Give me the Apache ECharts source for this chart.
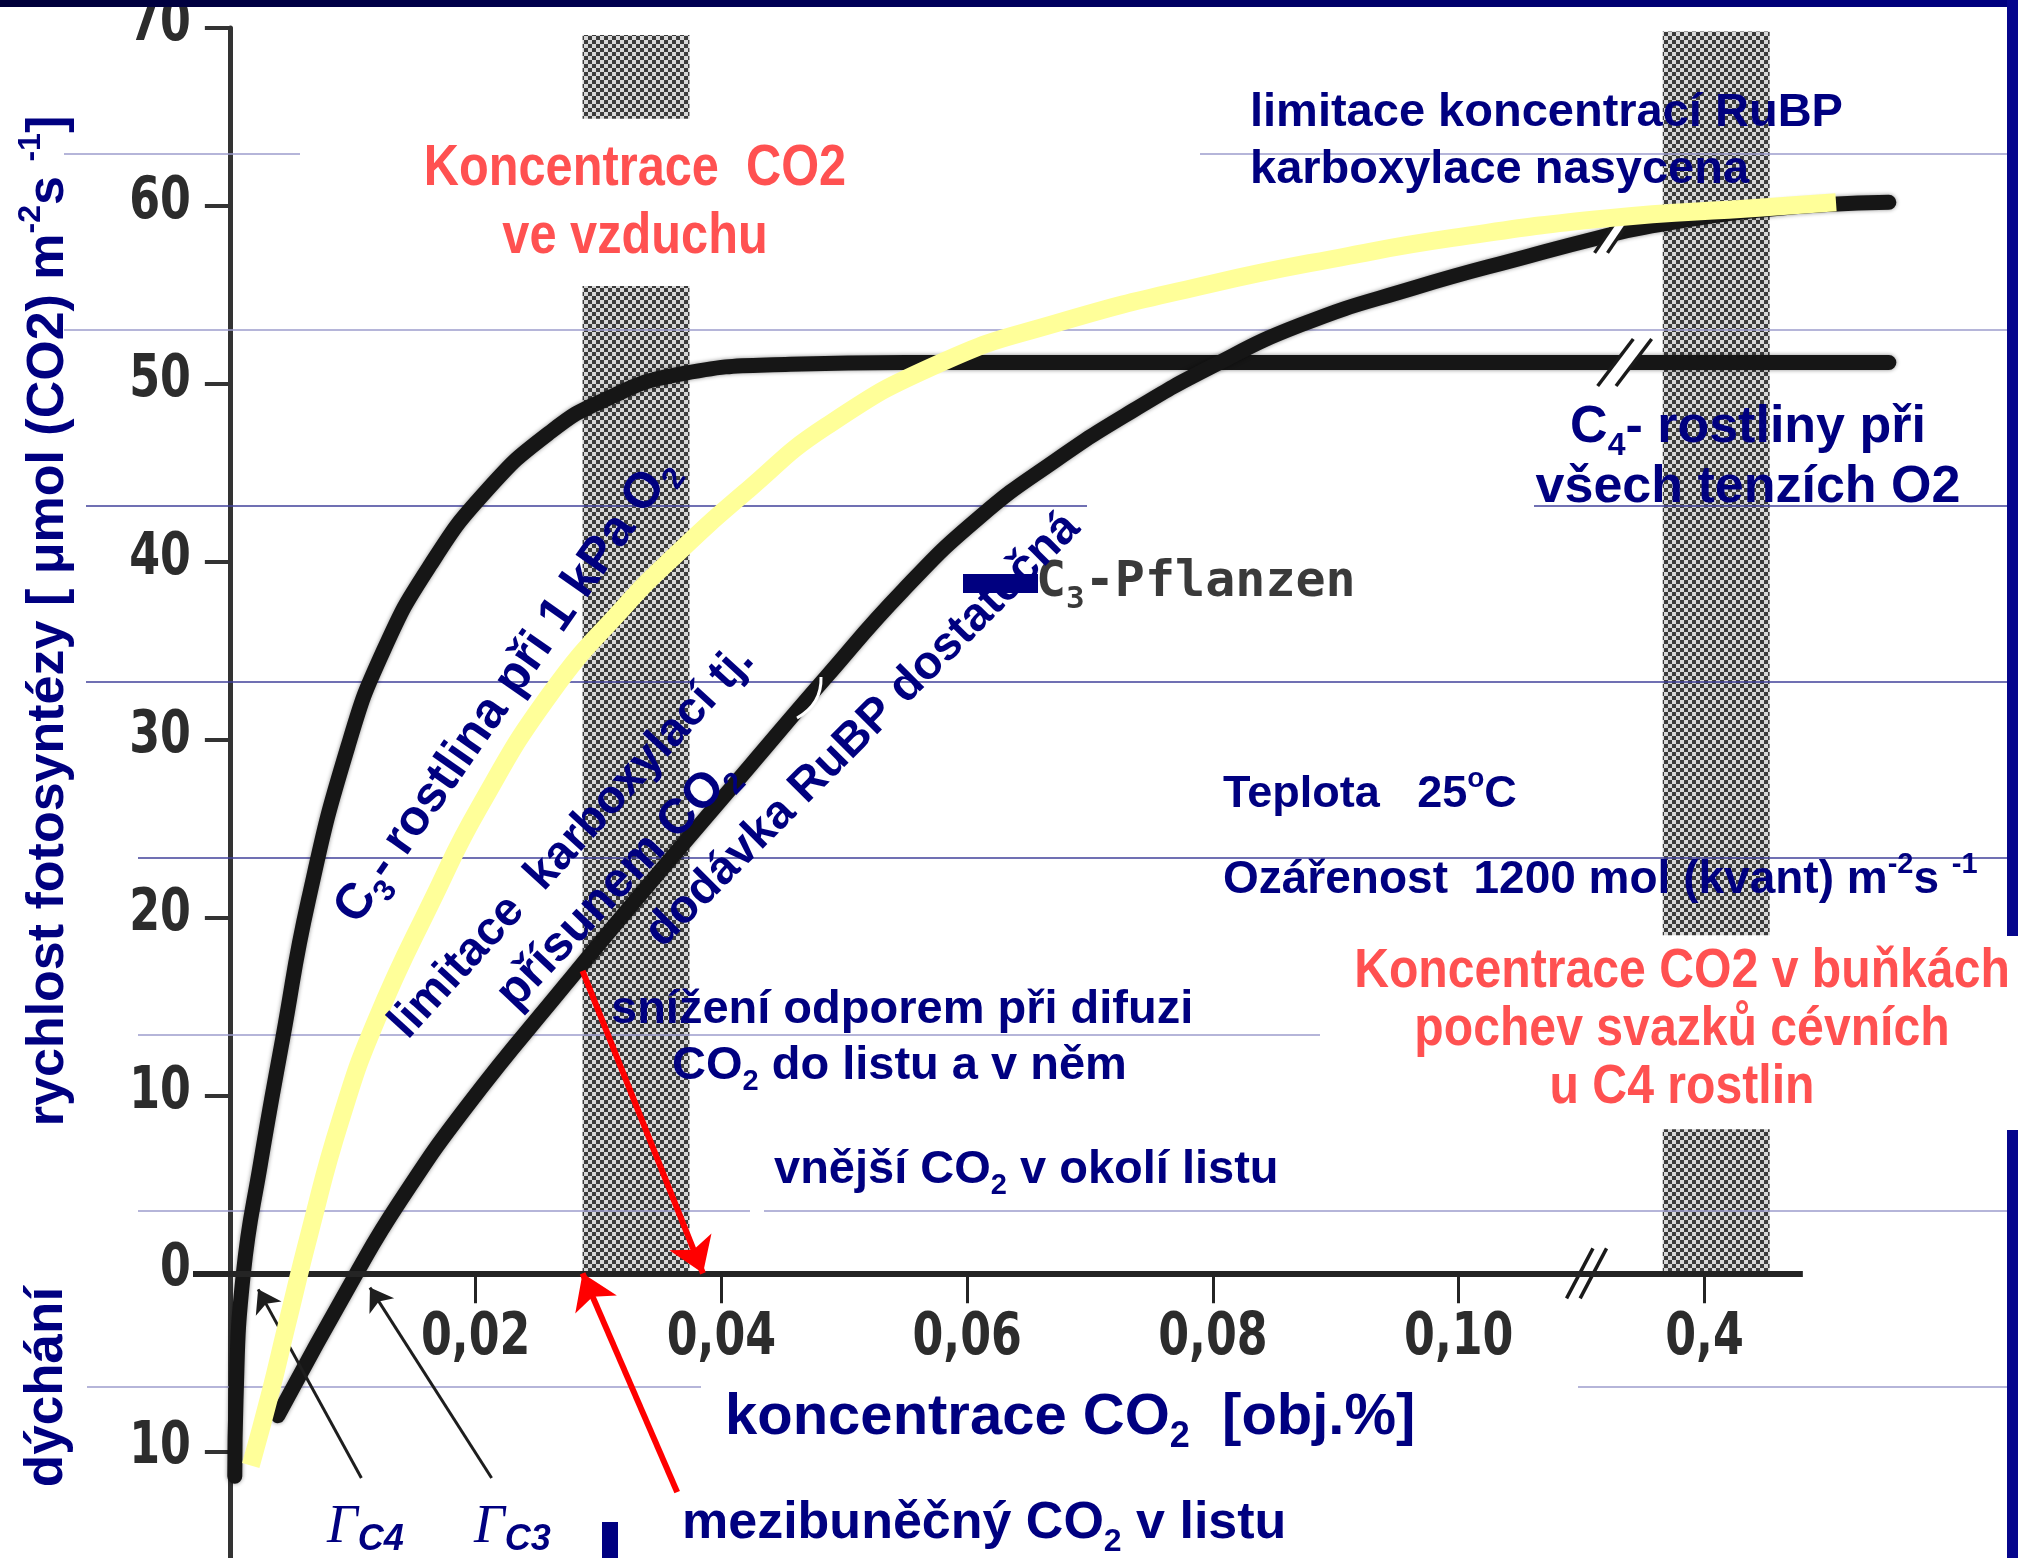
<!DOCTYPE html>
<html>
<head>
<meta charset="utf-8">
<script src="https://cdn.jsdelivr.net/npm/echarts@6/dist/echarts.min.js"></script>
<style>
html, body { margin: 0; padding: 0; background: #fff; }
#chart { width: 2018px; height: 1558px; }
</style>
</head>
<body>
<div id="chart"></div>
<script>
// Net photosynthesis vs. CO2 concentration (vol. %) for C3 and C4 plants.
// The axis is broken after 0,10: the tick drawn at 0.12 stands for 0,4 %.

const co2Ticks = [0.02, 0.04, 0.06, 0.08, 0.10, 0.12];
const co2TickLabels = ['0,02', '0,04', '0,06', '0,08', '0,10', '0,4'];
const co2AxisStart = -0.003;
const co2AxisEnd = 0.128;
const rateTicks = [-10, 0, 10, 20, 30, 40, 50, 60, 70];
const rateTickLabels = ['10', '0', '10', '20', '30', '40', '50', '60', '70'];

// C4 plants (all O2 tensions)
const c4Co2  = [0.0004, 0.0005, 0.0011, 0.0025, 0.0043, 0.0064, 0.0096, 0.0125, 0.0163, 0.0209, 0.0261, 0.0305, 0.0363, 0.0456, 0.055, 0.135];
const c4Rate = [-11.4, -7.1, 0, 6.2, 13.2, 21.0, 29.6, 35.0, 39.8, 44.0, 47.3, 49.1, 50.5, 51.1, 51.2, 51.2];

// C3 plants (normal air)
const c3Co2  = [0.0039, 0.0103, 0.0138, 0.0193, 0.0274, 0.0328, 0.0423, 0.0485, 0.0548, 0.061, 0.0672, 0.0735, 0.0797, 0.0871, 0.0964, 0.1058, 0.1113, 0.1151, 0.125, 0.135];
const c3Rate = [-8.0, 0, 4.0, 9.4, 16.3, 20.8, 28.5, 33.5, 38.4, 42.5, 45.7, 48.5, 50.9, 53.3, 55.4, 57.2, 58.2, 58.8, 59.8, 60.2];

// C3 plant at 1 kPa O2
const c3LowO2Co2  = [0.0017, 0.0033, 0.0046, 0.0065, 0.009, 0.0119, 0.0167, 0.0203, 0.0261, 0.032, 0.0363, 0.0421, 0.0485, 0.0579, 0.0672, 0.0797, 0.0911, 0.0995, 0.112, 0.1244, 0.1307];
const c3LowO2Rate = [-10.8, -6.7, -3.0, 2.3, 8.6, 14.2, 21.3, 26.2, 32.6, 37.4, 40.4, 44.0, 47.6, 51.2, 53.4, 55.6, 57.2, 58.2, 59.3, 59.9, 60.2];

// shaded CO2 ranges: ambient air and bundle-sheath cells of C4 plants
const airBandCo2 = [0.0287, 0.0374];
const airBandRate = [[0, 55.5], [64.9, 69.6]];
const sheathBandCo2 = [0.1166, 0.1253];
const sheathBandRate = [[0, 8.1], [19.0, 69.8]];

// CO2 in the leaf (intercellular) and around it (ambient)
const intercellularCo2 = 0.0287;
const intercellularRate = 17.0;
const ambientCo2 = 0.0385;
const intercellularLabelAt = [0.0364, -12.3];

// compensation-point pointers (tail -> tip)
const gammaC4Arrow = [[0.0107, -11.5], [0.0023, -0.9]];
const gammaC3Arrow = [[0.0213, -11.5], [0.0114, -0.8]];

// scale-break marks: on the C4 curve, on the C3 curve, on the CO2 axis
const breakCo2  = [0.1135, 0.1126, 0.1104];
const breakRate = [51.2, 58.4, 0];

const NAVY = '#000080';
const RED = '#ff5151';
const SANS = "'Liberation Sans', Arial, sans-serif";
const SCAN = "'DejaVu Sans Condensed', 'DejaVu Sans', sans-serif";
const MONO = "'DejaVu Sans Mono', monospace";
const SERIF = "'Liberation Serif', 'Times New Roman', serif";

const pts = (xs, ys) => xs.map((x, i) => [x, ys[i]]);

function checkerPattern() {
  const c = document.createElement('canvas');
  c.width = 8; c.height = 8;
  const g = c.getContext('2d');
  g.fillStyle = '#d8d8d8'; g.fillRect(0, 0, 8, 8);
  g.fillStyle = '#3c3c3c'; g.fillRect(0, 0, 4, 4); g.fillRect(4, 4, 4, 4);
  return c;
}
const bandFill = { image: checkerPattern(), repeat: 'repeat' };

const bandRects = [];
airBandRate.forEach(r => bandRects.push([airBandCo2[0], airBandCo2[1], r[0], r[1]]));
sheathBandRate.forEach(r => bandRects.push([sheathBandCo2[0], sheathBandCo2[1], r[0], r[1]]));

const breakSizes = [[54, 47], [38, 37], [40, 50]];

function richSet(fs, color, family, weight, style) {
  const base = { fontSize: fs, fontFamily: family, fontWeight: weight || 'bold', fontStyle: style || 'normal', fill: color };
  const small = Math.round(fs * 0.62);
  return {
    t: Object.assign({}, base, { lineHeight: Math.round(fs * 1.3) }),
    sub: Object.assign({}, base, { fontSize: small, verticalAlign: 'bottom', lineHeight: Math.round(fs * 0.7) }),
    sup: Object.assign({}, base, { fontSize: small, verticalAlign: 'top', lineHeight: Math.round(fs * 0.7) })
  };
}

function txt(x, y, text, fs, opts) {
  opts = opts || {};
  return {
    type: 'text', x: x, y: y, z: 20, silent: true,
    rotation: opts.rotation || 0,
    scaleX: opts.scaleX || 1,
    style: {
      text: text,
      align: opts.align || 'left',
      verticalAlign: 'middle',
      rich: richSet(fs, opts.color || NAVY, opts.family || SANS, opts.weight, opts.fontStyle)
    }
  };
}

const deg = d => d * Math.PI / 180;

const slideLines = [
  [154, 64, 300, '#9d9dcc'], [154, 1200, 2007, '#9d9dcc'],
  [330, 64, 2007, '#9d9dcc'],
  [506, 86, 1087, '#40409a'], [506, 1534, 2007, '#40409a'],
  [682, 86, 2007, '#40409a'],
  [858, 138, 2007, '#40409a'],
  [1035, 138, 1320, '#9d9dcc'],
  [1211, 138, 750, '#9d9dcc'], [1211, 764, 2007, '#9d9dcc'],
  [1387, 87, 701, '#9d9dcc'], [1387, 1578, 2007, '#9d9dcc']
];

const graphics = [
  { type: 'rect', z: 30, shape: { x: 0, y: 0, width: 2018, height: 7 },
    style: { fill: new echarts.graphic.LinearGradient(0, 0, 1, 0, [{ offset: 0, color: '#00003a' }, { offset: 1, color: '#000080' }]) } },
  { type: 'rect', z: 30, shape: { x: 2007, y: 0, width: 11, height: 936 }, style: { fill: '#06068c' } },
  { type: 'rect', z: 30, shape: { x: 2007, y: 1130, width: 11, height: 428 }, style: { fill: '#06068c' } },
  { type: 'polygon', z: 1, shape: { points: [[582, 1232], [605, 1232], [582, 1272]] }, style: { fill: '#fff' } },
  { type: 'bezierCurve', z: 8, shape: { x1: 797, y1: 718, cpx1: 822, cpy1: 704, x2: 821, y2: 677 }, style: { stroke: '#fff', lineWidth: 3, fill: null } },
  { type: 'rect', z: 21, shape: { x: 963, y: 574, width: 75, height: 19 }, style: { fill: NAVY } },
  { type: 'rect', z: 21, shape: { x: 602, y: 1522, width: 16, height: 36 }, style: { fill: NAVY } }
];
slideLines.forEach(l => graphics.push({
  type: 'line', z: 2, silent: true,
  shape: { x1: l[1], y1: l[0], x2: l[2], y2: l[0] },
  style: { stroke: l[3], lineWidth: 1.5 }
}));

graphics.push(
  txt(49, 621, '{t|rychlost fotosyntézy [ μmol (CO2) m}{sup|-2}{t|s }{sup|-1}{t|]}', 52, { align: 'center', rotation: deg(90) }),
  txt(47, 1387, '{t|dýchání}', 53, { align: 'center', rotation: deg(90) }),
  txt(635, 169, '{t|Koncentrace  CO2}', 58, { align: 'center', color: RED, scaleX: 0.84 }),
  txt(635, 237, '{t|ve vzduchu}', 58, { align: 'center', color: RED, scaleX: 0.84 }),
  txt(1250, 113, '{t|limitace koncentrací RuBP}', 47),
  txt(1250, 170, '{t|karboxylace nasycena}', 47),
  txt(1748, 428, '{t|C}{sub|4}{t|- rostliny při}', 52, { align: 'center' }),
  txt(1748, 488, '{t|všech tenzích O2}', 52, { align: 'center' }),
  txt(1036, 583, '{t|C}{sub|3}{t|-Pflanzen}', 50, { color: '#3a3a3a', family: MONO, weight: 'bold' }),
  txt(1223, 795, '{t|Teplota   25}{sup|o}{t|C}', 45),
  txt(1223, 880, '{t|Ozářenost  1200 mol (kvant) m}{sup|-2}{t|s }{sup|-1}', 46),
  txt(1682, 972, '{t|Koncentrace CO2 v buňkách}', 56, { align: 'center', color: RED, scaleX: 0.86 }),
  txt(1682, 1030, '{t|pochev svazků cévních}', 56, { align: 'center', color: RED, scaleX: 0.86 }),
  txt(1682, 1088, '{t|u C4 rostlin}', 56, { align: 'center', color: RED, scaleX: 0.86 }),
  txt(611, 1010, '{t|snížení odporem při difuzi}', 47),
  txt(672, 1066, '{t|CO}{sub|2}{t| do listu a v něm}', 47),
  txt(774, 1170, '{t|vnější CO}{sub|2}{t| v okolí listu}', 47),
  txt(725, 1418, '{t|koncentrace CO}{sub|2}{t|  [obj.%]}', 58),
  txt(682, 1524, '{t|mezibuněčný CO}{sub|2}{t| v listu}', 52),
  txt(506, 690, '{t|C}{sub|3}{t|- rostlina při 1 kPa O}{sub|2}', 50, { align: 'center', rotation: deg(55) }),
  txt(572, 842, '{t|limitace  karboxylací tj.}', 47, { align: 'center', rotation: deg(47.5) }),
  txt(617, 884, '{t|přísunem CO}{sub|2}', 49, { align: 'center', rotation: deg(46.5) }),
  txt(863, 730, '{t|dodávka RuBP dostatečná}', 47, { align: 'center', rotation: deg(45) })
);

function gammaLabel(x, sub) {
  return {
    type: 'text', x: x, y: 1528, z: 20, silent: true,
    style: {
      text: '{g|Γ}{s|' + sub + '}', align: 'left', verticalAlign: 'middle',
      rich: {
        g: { fontSize: 54, fontFamily: SERIF, fontStyle: 'italic', fill: NAVY, lineHeight: 60 },
        s: { fontSize: 36, fontFamily: SANS, fontStyle: 'italic', fontWeight: 'bold', fill: NAVY, verticalAlign: 'bottom', lineHeight: 44 }
      }
    }
  };
}
graphics.push(gammaLabel(327, 'C4'), gammaLabel(474, 'C3'));

// tick labels in the condensed type of the printed figure
const tickFont = { fontFamily: SCAN, fontWeight: 'bold', fontSize: 58, fill: '#2c2c2c',
                   shadowBlur: 2, shadowColor: 'rgba(0,0,0,0.35)' };

const blackCurve = { color: '#161616', width: 15, cap: 'round', join: 'round', shadowBlur: 4, shadowColor: 'rgba(0,0,0,0.45)' };

const option = {
  animation: false,
  backgroundColor: '#ffffff',
  grid: { left: 193, right: 123, top: 28, bottom: 0, containLabel: false, outerBoundsMode: 'none' },
  xAxis: {
    type: 'value', min: co2AxisStart, max: 0.1355,
    splitLine: { show: false },
    axisLine: { show: false, onZero: true },
    axisTick: { customValues: co2Ticks, length: 30, lineStyle: { color: '#242424', width: 3 } },
    axisLabel: { show: false }
  },
  yAxis: {
    type: 'value', min: -16, max: 70,
    splitLine: { show: false },
    axisLine: { onZero: true, lineStyle: { color: '#333333', width: 5 } },
    axisTick: { customValues: rateTicks, length: 25, lineStyle: { color: '#333333', width: 4 } },
    axisLabel: { show: false }
  },
  series: [
    {
      type: 'custom', name: 'bands', z: 1, silent: true, clip: false,
      data: bandRects,
      renderItem: function (params, api) {
        const a = api.coord([api.value(0), api.value(3)]);
        const b = api.coord([api.value(1), api.value(2)]);
        return { type: 'rect', shape: { x: a[0], y: a[1], width: b[0] - a[0], height: b[1] - a[1] }, style: { fill: bandFill } };
      }
    },
    {
      type: 'line', name: 'CO2 axis', z: 3, silent: true, data: [],
      markLine: {
        silent: true, animation: false, symbol: ['none', 'none'],
        label: { show: false }, emphasis: { disabled: true },
        lineStyle: { color: '#242424', width: 6, type: 'solid' },
        data: [[{ coord: [co2AxisStart, 0] }, { coord: [co2AxisEnd, 0] }]]
      }
    },
    {
      type: 'custom', name: 'CO2 tick labels', z: 7, silent: true, clip: false,
      data: co2Ticks.map(v => [v, 0]),
      renderItem: function (params, api) {
        const p = api.coord([api.value(0), 0]);
        return { type: 'text', x: p[0], y: p[1] + 66, scaleX: 0.85,
                 style: Object.assign({ text: co2TickLabels[params.dataIndex], align: 'center', verticalAlign: 'middle' }, tickFont) };
      }
    },
    {
      type: 'custom', name: 'rate tick labels', z: 7, silent: true, clip: false,
      data: rateTicks.map(v => [0, v]),
      renderItem: function (params, api) {
        const p = api.coord([0, api.value(1)]);
        return { type: 'text', x: p[0] - 39, y: p[1] - 3, scaleX: 0.85,
                 style: Object.assign({ text: rateTickLabels[params.dataIndex], align: 'right', verticalAlign: 'middle' }, tickFont) };
      }
    },
    {
      type: 'line', name: 'C4', z: 3, silent: true, clip: false, symbol: 'none', smooth: 0.5,
      data: pts(c4Co2, c4Rate), lineStyle: blackCurve
    },
    {
      type: 'line', name: 'C3', z: 3, silent: true, clip: false, symbol: 'none', smooth: 0.5,
      data: pts(c3Co2, c3Rate), lineStyle: blackCurve
    },
    {
      type: 'custom', name: 'breaks', z: 4, silent: true, clip: false,
      data: pts(breakCo2, breakRate),
      renderItem: function (params, api) {
        const c = api.coord([api.value(0), api.value(1)]);
        const s = breakSizes[params.dataIndex];
        const w = s[0], h = s[1], gap = w * 0.34, run = w - gap;
        const x0 = c[0] - w / 2, yT = c[1] - h / 2, yB = c[1] + h / 2;
        return {
          type: 'group',
          children: [
            { type: 'polygon', shape: { points: [[x0, yB], [x0 + gap, yB], [x0 + gap + run, yT], [x0 + run, yT]] }, style: { fill: '#ffffff' } },
            { type: 'line', shape: { x1: x0, y1: yB, x2: x0 + run, y2: yT }, style: { stroke: '#1a1a1a', lineWidth: 3.5 } },
            { type: 'line', shape: { x1: x0 + gap, y1: yB, x2: x0 + gap + run, y2: yT }, style: { stroke: '#1a1a1a', lineWidth: 3.5 } }
          ]
        };
      }
    },
    {
      type: 'line', name: 'C3 1 kPa O2', z: 5, silent: true, clip: false, symbol: 'none', smooth: 0.5,
      data: pts(c3LowO2Co2, c3LowO2Rate),
      lineStyle: { color: '#ffff99', width: 18, cap: 'butt', join: 'round' }
    },
    {
      type: 'line', name: 'red arrows', z: 6, silent: true, data: [],
      markLine: {
        silent: true, animation: false, symbol: ['none', 'arrow'], symbolSize: 34,
        label: { show: false },
        lineStyle: { color: '#ff0000', width: 6, type: 'solid' },
        emphasis: { disabled: true },
        data: [
          [{ coord: [intercellularCo2, intercellularRate] }, { coord: [ambientCo2, 0] }],
          [{ coord: intercellularLabelAt }, { coord: [intercellularCo2, 0] }]
        ]
      }
    },
    {
      type: 'line', name: 'gamma arrows', z: 6, silent: true, data: [],
      markLine: {
        silent: true, animation: false, symbol: ['none', 'arrow'], symbolSize: 22,
        label: { show: false },
        lineStyle: { color: '#1e1e1e', width: 3, type: 'solid' },
        emphasis: { disabled: true },
        data: [
          [{ coord: gammaC4Arrow[0] }, { coord: gammaC4Arrow[1] }],
          [{ coord: gammaC3Arrow[0] }, { coord: gammaC3Arrow[1] }]
        ]
      }
    }
  ],
  graphic: graphics
};

const chart = echarts.init(document.getElementById('chart'), null, { renderer: 'canvas' });
chart.setOption(option);
</script>
</body>
</html>
